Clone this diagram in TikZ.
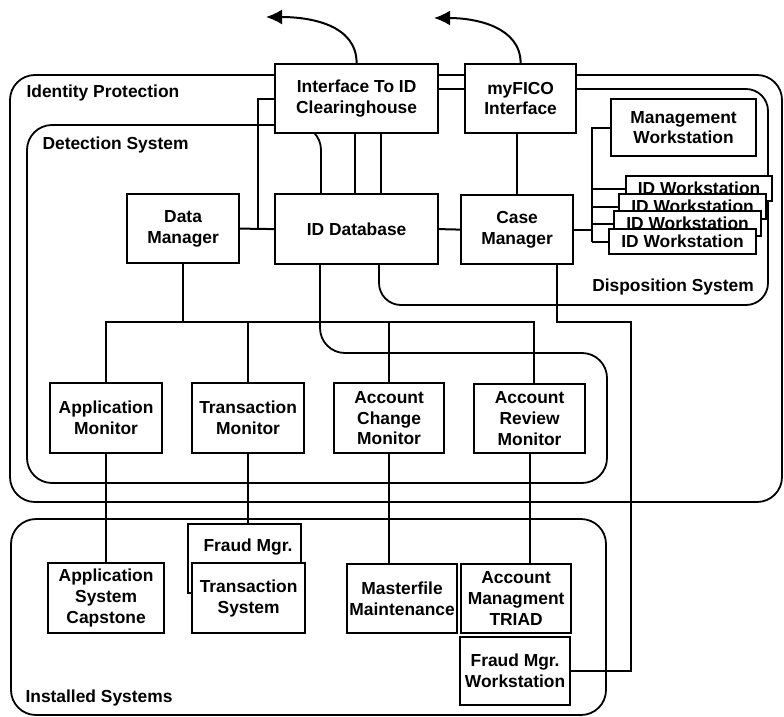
\documentclass[tikz,border=0pt]{standalone}
\usepackage{fontspec}
\setmainfont{Liberation Sans}
\usetikzlibrary{arrows.meta,calc}
\begin{document}
\begin{tikzpicture}[x=1pt,y=-1pt,
  txt/.style={font=\fontsize{17.4}{20.8}\selectfont\bfseries},
  box/.style={draw, line width=2.2pt, fill=white, anchor=north west, inner sep=0pt, align=center, txt},
  region/.style={draw, line width=1.8pt, rounded corners=25pt},
  wire/.style={line width=2pt},
  arrowline/.style={line width=2pt, -{Latex[length=16pt,width=15pt]}}]
\useasboundingbox (0,0) rectangle (784,717);
% regions
\draw[region] (10,75) rectangle (782,502);
\draw[region] (321,193) -- (321,125) -- (27,125) -- (27,483) -- (607,483) -- (607,353) -- (320,353) -- (320,263);
\draw[region, rounded corners=22pt] (430,89) -- (768,89) -- (768,305) -- (379,305) -- (379,263);
\draw[region] (11,519) rectangle (606,715);
% region labels
\node[txt, anchor=west] (lbIP) at (23,93) {Identity Protection};
\node[txt, anchor=west] (lbDS) at (39,145) {Detection System};
\node[txt] (lbDisp) at (673,287) {Disposition System};
\node[txt, anchor=west] (lbIS) at (22,698) {Installed Systems};
% boxes
\node[box, minimum width=163pt, minimum height=69pt] (iface) at (274,63) {Interface To ID\\Clearinghouse};
\node[box, minimum width=111pt, minimum height=69pt] (fico) at (464,63) {myFICO\\Interface};
\node[box, minimum width=112pt, minimum height=69pt] (dm) at (126,193) {Data\\Manager};
\node[box, minimum width=163pt, minimum height=70pt] (id) at (274,193) {ID Database};
\node[box, minimum width=112pt, minimum height=69pt] (cm) at (460,194) {Case\\Manager};
\node[box, minimum width=145pt, minimum height=57pt] (mw) at (610,98) {Management\\Workstation};
\node[box, minimum width=146pt, minimum height=25pt] (ws1) at (625,175) {ID Workstation};
\node[box, minimum width=147pt, minimum height=25pt] (ws2) at (618,193) {ID Workstation};
\node[box, minimum width=147pt, minimum height=25pt] (ws3) at (613,210) {ID Workstation};
\node[box, minimum width=147pt, minimum height=25pt] (ws4) at (608,228) {ID Workstation};
\node[box, minimum width=112pt, minimum height=70pt] (am) at (49,382) {Application\\Monitor};
\node[box, minimum width=112pt, minimum height=70pt] (tm) at (191,382) {Transaction\\Monitor};
\node[box, minimum width=110pt, minimum height=70pt] (acm) at (333,382) {Account\\Change\\Monitor};
\node[box, minimum width=111pt, minimum height=69pt] (arm) at (473,383) {Account\\Review\\Monitor};
\node[box, minimum width=116pt, minimum height=70pt] (cap) at (47,562) {Application\\System\\Capstone};
\node[box, minimum width=113pt, minimum height=69pt] (fm) at (187,523) {};
\node[txt] (fmtext) at (248,547) {Fraud Mgr.};
\node[box, minimum width=113pt, minimum height=70pt] (ts) at (191,562) {Transaction\\System};
\node[box, minimum width=110pt, minimum height=69pt] (mf) at (346,563) {Masterfile\\Maintenance};
\node[box, minimum width=110pt, minimum height=69pt] (triad) at (460,563) {Account\\Managment\\TRIAD};
\node[box, minimum width=110pt, minimum height=68pt] (fmw) at (459,636) {Fraud Mgr.\\Workstation};
% helper coordinates
\coordinate (bus) at (0,322);
\coordinate (j1) at (258,0);
\coordinate (wsbus) at (592,0);
\coordinate (cmx) at (557,0);
\coordinate (rtx) at (631,0);
\coordinate (t1) at (266,17);
\coordinate (t2) at (434,18);
% connectors
\draw[wire] (dm.east) -- (id.west);
\draw[wire] (id.east) -- (cm.west);
\draw[wire] (iface.west) -| (j1 |- dm.east);
\draw[wire] ([xshift=-2pt]iface.south) -- ([xshift=-2pt]id.north);
\draw[wire] ([xshift=24pt]iface.south) -- ([xshift=24pt]id.north);
\draw[wire] (cm.north |- fico.south) -- (cm.north);
\draw[wire] (cm.east) -- (wsbus |- cm.east);
\draw[wire] (mw.west) -| (wsbus |- ws4.west);
\foreach \w in {ws1,ws2,ws3,ws4} \draw[wire] (\w.west) -- (wsbus |- \w.west);
\draw[wire] (dm.south) -- (dm.south |- bus);
\draw[wire] (am.north) |- ([xshift=4pt]arm.north |- bus) -- ([xshift=4pt]arm.north);
\draw[wire] (tm.north) -- (tm.north |- bus);
\draw[wire, line width=2.6pt] (acm.north) -- (acm.north |- bus);
\draw[wire] (am.south) -- (am.south |- cap.north);
\draw[wire] (tm.south) -- (tm.south |- fm.north);
\draw[wire] (acm.south) -- (acm.south |- mf.north);
\draw[wire] (arm.south) -- (arm.south |- triad.north);
\draw[wire] (cm.south -| cmx) |- (rtx |- bus) |- (fmw.east);
\draw[arrowline] (iface.north) .. controls +(0,-38) and +(45,0) .. (t1);
\draw[arrowline] (fico.north) .. controls +(0,-36) and +(42,0) .. (t2);
\end{tikzpicture}
\end{document}
